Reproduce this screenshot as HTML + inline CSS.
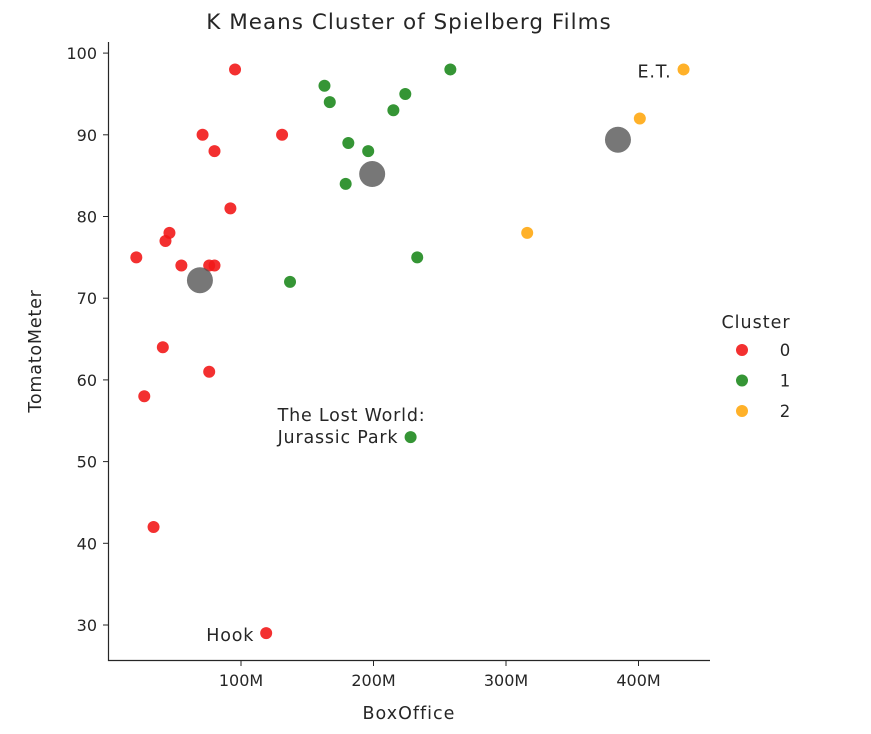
<!DOCTYPE html>
<html><head><meta charset="utf-8"><style>
body{margin:0;background:#fff;}
svg text{font-family:"DejaVu Sans","Liberation Sans",sans-serif;fill:#262626;}
</style></head><body>
<svg id="chart" width="871" height="729" viewBox="0 0 871 729" xmlns="http://www.w3.org/2000/svg">
<text x="409" y="29" font-size="21.5" letter-spacing="1" text-anchor="middle">K Means Cluster of Spielberg Films</text>
<g id="marks"></g>
<g id="axes"></g>
</svg>
<script>
const boxOffice=[95.5,71,80,131,92,46,43,21,55,76,80,41,76,27,34,119,163,167,258,224,215,181,196,179,233,137,228,434,401,316];
const tomatoMeter=[98,90,88,90,81,78,77,75,74,74,74,64,61,58,42,29,96,94,98,95,93,89,88,84,75,72,53,98,92,78];
const clusters=[0,0,0,0,0,0,0,0,0,0,0,0,0,0,0,0,1,1,1,1,1,1,1,1,1,1,1,2,2,2];
const centroidX=[69,199,384.5];
const centroidY=[72.2,85.2,89.4];
const xTicks=[100,200,300,400];
const xTickLabels=["100M","200M","300M","400M"];
const yTicks=[30,40,50,60,70,80,90,100];
const clusterColors=["#f21a1a","#1f8a1f","#ffa812"];
const clusterNames=["0","1","2"];
const annotations=[{i:27,lines:["E.T."],anchor:"end",dx:-12,dy:8},{i:26,lines:["The Lost World:","Jurassic Park"],anchor:"start",dx:-133,dy:-16},{i:15,lines:["Hook"],anchor:"end",dx:-12,dy:8}];
const NS="http://www.w3.org/2000/svg";
const xs=v=>108.5+v*1.325;
const ys=v=>625-(v-30)*8.17;
const marks=document.getElementById('marks'),axes=document.getElementById('axes');
function mk(tag,attrs,parent){const e=document.createElementNS(NS,tag);for(const k in attrs)e.setAttribute(k,attrs[k]);parent.appendChild(e);return e;}
boxOffice.forEach((b,i)=>{
  const c=mk('circle',{cx:xs(b),cy:ys(tomatoMeter[i]),r:6,fill:clusterColors[clusters[i]],'fill-opacity':0.9},marks);
  
  
});
centroidX.forEach((b,i)=>{
  const c=mk('circle',{cx:xs(b),cy:ys(centroidY[i]),r:13,fill:'#555','fill-opacity':0.8},marks);
  
  
});
annotations.forEach(a=>{
  const x=xs(boxOffice[a.i]),y=ys(tomatoMeter[a.i]);
  a.lines.forEach((l,k)=>{
    const t=mk('text',{x:x+a.dx,y:y+a.dy+k*22,'font-size':17.5,'letter-spacing':0.8,'text-anchor':a.anchor},marks);
    t.textContent=l;
    
    
  });
});
const ax=mk('path',{d:'M108.5,42 V660.5 H710',stroke:'#262626','stroke-width':1.2,fill:'none'},axes);


xTicks.forEach((v,i)=>{
  mk('line',{x1:xs(v),x2:xs(v),y1:660.5,y2:666,stroke:'#262626'},axes);
  const t=mk('text',{x:xs(v),y:686,'font-size':16,'text-anchor':'middle'},axes);
  t.textContent=xTickLabels[i];
  
  
});
yTicks.forEach(v=>{
  mk('line',{x1:103,x2:108.5,y1:ys(v),y2:ys(v),stroke:'#262626'},axes);
  const t=mk('text',{x:97,y:ys(v)+6,'font-size':16,'text-anchor':'end'},axes);
  t.textContent=v;
  
  
});
let t=mk('text',{x:409,y:719,'font-size':17.5,'letter-spacing':1,'text-anchor':'middle'},axes);t.textContent='BoxOffice';


t=mk('text',{x:41,y:351,'font-size':17.5,'letter-spacing':0.8,'text-anchor':'middle',transform:'rotate(-90 41 351)'},axes);t.textContent='TomatoMeter';


t=mk('text',{x:756,y:328,'font-size':17.5,'letter-spacing':1,'text-anchor':'middle'},axes);t.textContent='Cluster';


clusterNames.forEach((n,i)=>{
  const y=350+i*30.5;
  const c=mk('circle',{cx:742,cy:y,r:6,fill:clusterColors[i],'fill-opacity':0.9},axes);
  
  
  const l=mk('text',{x:785,y:y+6,'font-size':16.5,'text-anchor':'middle'},axes);l.textContent=n;
  
  
});
</script>
</body></html>
